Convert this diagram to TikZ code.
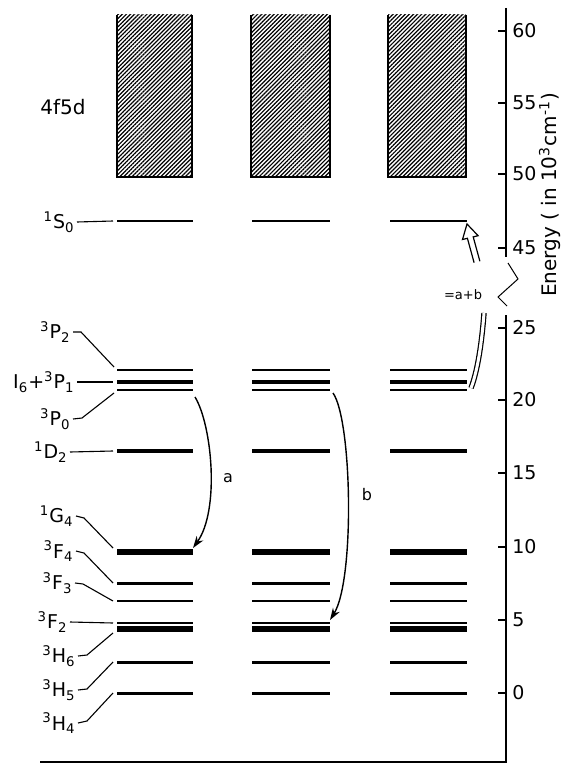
\documentclass[tikz,border=0pt]{standalone}
\usepackage{fontspec}
\setmainfont{DejaVu Sans}
\usetikzlibrary{arrows.meta, patterns.meta, calc}
\newcommand{\termsym}[3]{\textsuperscript{#1}#2\textsubscript{#3}}
\begin{document}
\begin{tikzpicture}[x=0.5pt, y=-0.5pt,
    lvl/.style={line width=#1},
    leader/.style={line width=0.55pt},
    band/.style={pattern={Lines[angle=45, distance=1.45pt, line width=0.6pt]}},
    axis/.style={line width=0.8pt},
    tickmark/.style={line width=0.8pt},
    ticklabel/.style={anchor=west, inner sep=0pt, font=\fontsize{9.5}{10}\selectfont},
    term/.style={anchor=east, inner sep=1pt, font=\fontsize{9.5}{10}\selectfont},
    trans/.style={-{Stealth[length=6pt, width=4pt]}, line width=0.7pt},
    translabel/.style={inner sep=0pt, font=\fontsize{8}{9}\selectfont}
  ]
  \useasboundingbox (0,0) rectangle (562,764);

  % 4f5d bands
  \foreach \c/\xa/\xb in {1/117/192, 2/251/330, 3/388/466}{
    \path[band] (\xa,15) rectangle (\xb,177);
    \draw[line width=0.8pt] (\xa,15) -- (\xa,177) -- (\xb,177) -- (\xb,15);
  }
  \node[font=\fontsize{10}{12}\selectfont] (band) at (63,107) {4f5d};

  % levels in the three columns
  \foreach \n/\y/\w in {S0/221/0.9pt, P2/370/1.2pt, P1/382/2pt, P0/390/1.2pt, D2/451/2pt,
      G4/552/3pt, F4/583/1.5pt, F3/601/1.2pt, F2/623/1.2pt, H6/629/2.6pt, H5/662/1.5pt, H4/693/1.5pt}{
    \coordinate (\n-in) at (113,\y);
    \foreach \c/\xa/\xb in {1/117/193, 2/252/330, 3/390/467}{
      \coordinate (\n-a\c) at (\xa,\y);
      \coordinate (\n-b\c) at (\xb,\y);
      \draw[lvl=\w] (\n-a\c) -- (\n-b\c);
    }
  }

  % term labels
  \node[term] (S0t) at (77,222) {\termsym{1}{S}{0}};
  \node[term] (P2t) at (73,332) {\termsym{3}{P}{2}};
  \node[term] (P1t) at (77,382) {I\textsubscript{6}+\termsym{3}{P}{1}};
  \node[term] (P0t) at (73,419) {\termsym{3}{P}{0}};
  \node[term] (D2t) at (70,452) {\termsym{1}{D}{2}};
  \node[term] (G4t) at (76,516) {\termsym{1}{G}{4}};
  \node[term] (F4t) at (76,551) {\termsym{3}{F}{4}};
  \node[term] (F3t) at (75,583) {\termsym{3}{F}{3}};
  \node[term] (F2t) at (70,622) {\termsym{3}{F}{2}};
  \node[term] (H6t) at (78,656) {\termsym{3}{H}{6}};
  \node[term] (H5t) at (78,690) {\termsym{3}{H}{5}};
  \node[term] (H4t) at (78,723) {\termsym{3}{H}{4}};

  \draw[leader] (S0t.east) -- (S0-in);
  \draw[leader] (P2t.east) -- ++(8,0) -- ($(P2-in)+(1,-3)$);
  \draw[leader] (P1t.east) -- (P1-in);
  \draw[leader] (P0t.east) -- ++(9,-1) -- ($(P0-in)+(1,3)$);
  \draw[leader] (D2t.east) -- (D2-in);
  \draw[leader] (G4t.east) -- ++(8,2) -- ($(G4-in)+(0,-4)$);
  \draw[leader] (F4t.east) -- ++(8,2) -- (F4-in);
  \draw[leader] (F3t.east) -- ++(8,1) -- (F3-in);
  \draw[leader] (F2t.east) -- (F2-in);
  \draw[leader] (H6t.east) -- ++(9,-1) -- ($(H6-in)+(0,4)$);
  \draw[leader] (H5t.east) -- ++(9,-1) -- (H5-in);
  \draw[leader] (H4t.east) -- ++(9,-2) -- (H4-in);

  % energy axis with break
  \draw[axis] (506,8) -- (506,257);
  \draw[line width=0.5pt] (508,263) -- (518,279) -- (498,297) -- (507,306);
  \draw[axis] (506,315) -- (506,762) -- (40,762);
  \foreach \v/\y in {60/31, 55/103, 50/174, 45/248, 25/328, 20/400, 15/473, 10/547, 5/620, 0/693}{
    \draw[tickmark] (498,\y) -- (506,\y);
    \node[ticklabel] (t\v) at (512,\y) {\v};
  }
  \node[rotate=90, font=\fontsize{10}{12}\selectfont] (elabel) at (550,195)
    {Energy ( in 10\textsuperscript{3}cm\textsuperscript{-1})};

  % transitions
  \draw[trans] ($(P0-b1)+(2,7)$) .. controls (212,425) and (220,510) .. ($(G4-b1)+(0,-4)$);
  \node[translabel] (alab) at (228,478) {a};
  \draw[trans] ($(P0-b2)+(3,3)$) .. controls (352,420) and (355,580) .. ($(F2-b2)+(0,-3)$);
  \node[translabel] (blab) at (367,495) {b};

  % a+b up-conversion
  \coordinate (ablow) at (484,313);
  \draw[line width=0.6pt, double, double distance=1.5pt]
    ($(P0-b3)+(4,-2)$) .. controls (478,370) and (482,340) .. (ablow);
  \draw[line width=0.6pt] (474.1,262.7) -- (467.4,238.3) -- (462.5,239.5) -- (467,224)
    -- (478.1,235.7) -- (473.2,236.9) -- (479.9,261.3);
  \node[translabel, font=\fontsize{6.5}{7}\selectfont] (ablab) at (463,295) {=a+b};
\end{tikzpicture}
\end{document}
